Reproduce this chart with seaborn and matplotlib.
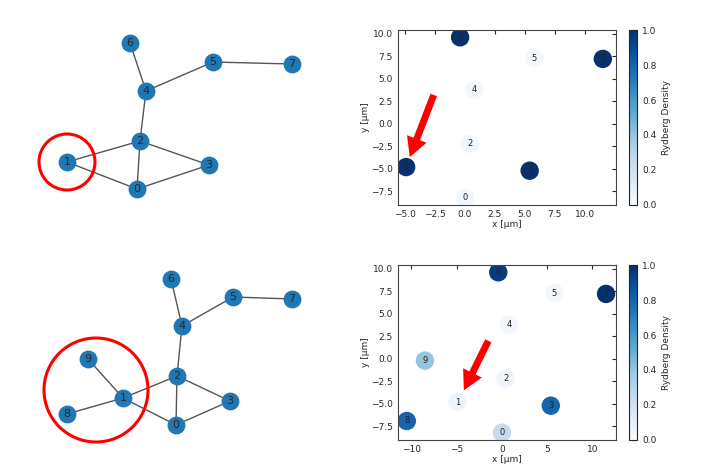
import matplotlib
matplotlib.use("Agg")
import matplotlib.pyplot as plt
import seaborn as sns
from matplotlib.patches import Circle

sns.set_style("white")

# graph drawing layouts (drawing coordinates)
edges_a = [(6, 4), (4, 5), (5, 7), (4, 2), (2, 1), (2, 3), (2, 0), (1, 0), (0, 3)]
pos_a = {0: (137, 189), 1: (67, 162), 2: (140, 141), 3: (209, 165),
         4: (146, 91), 5: (213, 62), 6: (130, 43), 7: (292, 64)}
edges_b = edges_a + [(1, 9), (1, 8)]
pos_b = {0: (176, 425), 1: (123, 398), 2: (177, 376), 3: (230, 401),
         4: (182, 326), 5: (233, 297), 6: (171, 279), 7: (292, 299),
         8: (67, 414), 9: (88, 359)}

# atom positions in um and Rydberg densities
xa = [0.0, -4.9, 0.4, 5.4, 0.8, 5.8, -0.4, 11.5]
ya = [-8.2, -4.8, -2.2, -5.2, 3.8, 7.3, 9.6, 7.2]
da = [0.03, 1.0, 0.03, 1.0, 0.03, 0.03, 1.0, 1.0]
xb = xa + [-10.5, -8.5]
yb = ya + [-6.9, -0.2]
db = [0.25, 0.05, 0.05, 0.8, 0.03, 0.03, 0.95, 1.0, 0.8, 0.4]

fig = plt.figure(figsize=(7.04, 4.70), dpi=100)


def draw_graph(ax, pos, edges, circ, ylim):
    for u, v in edges:
        ax.plot([pos[u][0], pos[v][0]], [pos[u][1], pos[v][1]], color="#555555", lw=1, zorder=1)
    px = [p[0] for p in pos.values()]
    py = [p[1] for p in pos.values()]
    ax.scatter(px, py, s=140, color="#1f78b4", zorder=2)
    for k, (x, y) in pos.items():
        ax.text(x, y, str(k), ha="center", va="center", fontsize=8, zorder=3)
    ax.add_patch(Circle(circ[:2], circ[2], fill=False, ec="red", lw=2.2))
    ax.set_xlim(0, 352)
    ax.set_ylim(*ylim)
    ax.axis("off")


ax1 = fig.add_axes([0, 0.5, 0.5, 0.5])
draw_graph(ax1, pos_a, edges_a, (67, 162, 28), (235, 0))
ax2 = fig.add_axes([0, 0, 0.5, 0.5])
draw_graph(ax2, pos_b, edges_b, (96, 390, 52), (470, 235))


def draw_atoms(ax, cax, x, y, d, ticks, tail, tip):
    sc = ax.scatter(x, y, c=d, cmap="Blues", vmin=0, vmax=1, s=150, zorder=2)
    for i, (a, b) in enumerate(zip(x, y)):
        ax.text(a, b, str(i), ha="center", va="center", fontsize=6, color="#222222", zorder=3)
    ax.annotate("", xy=tip, xytext=tail, zorder=4,
                arrowprops=dict(color="red", width=5, headwidth=15, headlength=14, lw=0))
    ax.set_xticks(ticks)
    ax.set_yticks([-7.5, -5.0, -2.5, 0.0, 2.5, 5.0, 7.5, 10.0])
    ax.tick_params(direction="in", labelsize=6.5, length=3, top=True, right=True)
    ax.set_xlabel("x [µm]", fontsize=6.5, labelpad=1)
    ax.set_ylabel("y [µm]", fontsize=6.5, labelpad=1)
    for s in ax.spines.values():
        s.set_color("#444444")
    cb = fig.colorbar(sc, cax=cax)
    cb.set_label("Rydberg Density", fontsize=6.5)
    cb.ax.tick_params(labelsize=6.5, direction="in")
    cb.set_ticks([0, 0.2, 0.4, 0.6, 0.8, 1.0])


ax3 = fig.add_axes([0.565, 0.564, 0.31, 0.372])
cax3 = fig.add_axes([0.893, 0.564, 0.012, 0.372])
draw_atoms(ax3, cax3, xa, ya, da, [-5.0, -2.5, 0.0, 2.5, 5.0, 7.5, 10.0],
           (-2.6, 3.2), (-4.6, -3.7))
ax3.set_xlim(-5.6, 12.6)
ax3.set_ylim(-9.0, 10.4)

ax4 = fig.add_axes([0.565, 0.064, 0.31, 0.372])
cax4 = fig.add_axes([0.893, 0.064, 0.012, 0.372])
draw_atoms(ax4, cax4, xb, yb, db, [-10, -5, 0, 5, 10],
           (-1.5, 2.0), (-4.2, -3.5))
ax4.set_xlim(-11.5, 12.6)
ax4.set_ylim(-9.0, 10.4)

fig.savefig("out.png", dpi=100)
